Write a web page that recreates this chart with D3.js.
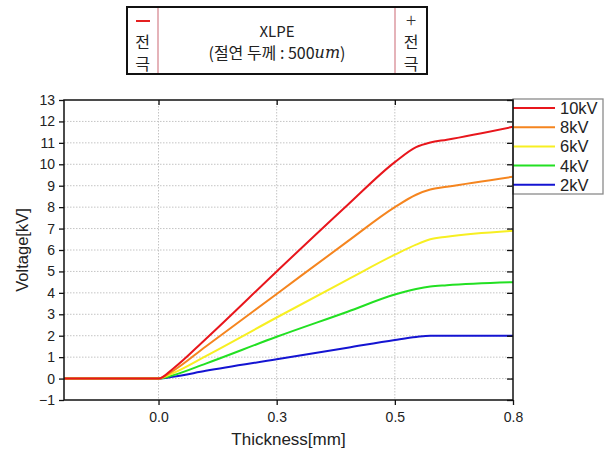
<!DOCTYPE html>
<meta charset="utf-8">
<script src="https://cdn.jsdelivr.net/npm/d3@7"></script>
<style>
    body { margin: 0; background: #fff; }
    .tick text { font-family: "Liberation Sans", Arial, sans-serif; font-size: 14px; fill: #222; }
    .label { font-family: "Liberation Sans", Arial, sans-serif; font-size: 17px; fill: #222; }
    .legend text { font-family: "Liberation Sans", Arial, sans-serif; font-size: 16.5px; fill: #222; }
    .kr { font-family: "Noto Sans CJK KR", "Noto Sans", sans-serif; font-size: 16px; fill: #222; }
</style>
<body>
<script>
    // thickness [mm] sample positions, shared by all series
    var xs = [-0.2, 0, 0.03, 0.1, 0.25, 0.4, 0.5, 0.545, 0.575, 0.61, 0.75];

    var v10 = [0, 0, 0.45, 1.85, 5.0, 8.1, 10.1, 10.8, 11.02, 11.15, 11.75];
    var v8 = [0, 0, 0.35, 1.5, 3.95, 6.4, 8.0, 8.58, 8.82, 8.95, 9.42];
    var v6 = [0, 0, 0.25, 1.05, 2.85, 4.62, 5.78, 6.25, 6.5, 6.62, 6.9];
    var v4 = [0, 0, 0.15, 0.7, 1.95, 3.12, 3.92, 4.18, 4.3, 4.36, 4.5];
    var v2 = [0, 0, 0.08, 0.36, 0.9, 1.44, 1.8, 1.94, 2.0, 2.0, 2.0];

    var names = ["10kV", "8kV", "6kV", "4kV", "2kV"];
    var colors = ["#e8161c", "#f5851f", "#f7ef22", "#22e022", "#1414d2"];
    var series = [v10, v8, v6, v4, v2];

    var xTicks = [0, 0.25, 0.5, 0.75];
    var yTicks = d3.range(-1, 14);

    (function () {
        var W = 613, H = 450;
        var pl = 64, pr = 513, pt = 100, pb = 400;

        var svg = d3.select("body").append("svg")
            .attr("width", W)
            .attr("height", H);

        var x = d3.scaleLinear().domain([-0.2, 0.75]).range([pl, pr]);
        var y = d3.scaleLinear().domain([-1, 13]).range([pb, pt]);

        // dotted grid
        svg.append("g").selectAll("line")
            .data(yTicks.filter(function (d) { return d > -1 && d < 13; }))
            .enter().append("line")
            .attr("x1", pl).attr("x2", pr)
            .attr("y1", function (d) { return y(d); })
            .attr("y2", function (d) { return y(d); })
            .attr("stroke", "#c4c4c4")
            .attr("stroke-dasharray", "1.5,1.5");

        svg.append("g").selectAll("line")
            .data(xTicks.slice(0, 3))
            .enter().append("line")
            .attr("y1", pt).attr("y2", pb)
            .attr("x1", function (d) { return x(d); })
            .attr("x2", function (d) { return x(d); })
            .attr("stroke", "#c4c4c4")
            .attr("stroke-dasharray", "1.5,1.5");

        // curves
        var line = d3.line()
            .x(function (d, i) { return x(xs[i]); })
            .y(function (d) { return y(d); })
            .curve(d3.curveMonotoneX);

        svg.append("g").selectAll("path")
            .data(series.slice().reverse())
            .enter().append("path")
            .attr("d", line)
            .attr("fill", "none")
            .attr("stroke", function (d, i) { return colors[4 - i]; })
            .attr("stroke-width", 2);

        // axes
        var fmt = d3.format(".1f");

        svg.append("g")
            .attr("transform", "translate(" + pl + ",0)")
            .call(d3.axisLeft(y).tickValues(yTicks).tickSize(5).tickSizeOuter(0).tickPadding(4));

        svg.append("g")
            .attr("transform", "translate(0," + pb + ")")
            .call(d3.axisBottom(x).tickValues(xTicks).tickFormat(fmt).tickSize(5).tickSizeOuter(0).tickPadding(7));

        svg.append("g")
            .attr("transform", "translate(0," + pt + ")")
            .call(d3.axisTop(x).tickValues(xTicks).tickFormat("").tickSize(-5).tickSizeOuter(0));

        svg.append("g")
            .attr("transform", "translate(" + pr + ",0)")
            .call(d3.axisRight(y).tickValues(yTicks).tickFormat("").tickSize(-6).tickSizeOuter(0));

        svg.selectAll(".domain").remove();
        svg.selectAll(".tick line").attr("stroke", "#111").attr("stroke-width", 1.3);

        // legend
        var lg = svg.append("g").attr("class", "legend");
        lg.append("rect")
            .attr("x", pr).attr("y", 99)
            .attr("width", 90).attr("height", 95)
            .attr("fill", "#fff")
            .attr("stroke", "#8a8a8a")
            .attr("stroke-width", 1.3);

        var row = lg.selectAll(".row")
            .data(names)
            .enter().append("g")
            .attr("class", "row")
            .attr("transform", function (d, i) { return "translate(" + pr + "," + (108 + i * 19.2) + ")"; });

        row.append("line")
            .attr("x1", 0).attr("x2", 42)
            .attr("stroke", function (d, i) { return colors[i]; })
            .attr("stroke-width", 2);

        row.append("text")
            .attr("x", 47)
            .attr("dy", "0.36em")
            .text(String);

        // frame
        svg.append("rect")
            .attr("x", pl).attr("y", pt)
            .attr("width", pr - pl).attr("height", pb - pt)
            .attr("fill", "none")
            .attr("stroke", "#111")
            .attr("stroke-width", 1.5);

        svg.append("text")
            .attr("class", "label")
            .attr("x", (pl + pr) / 2)
            .attr("y", 445)
            .attr("text-anchor", "middle")
            .text("Thickness[mm]");

        svg.append("text")
            .attr("class", "label")
            .attr("transform", "translate(28," + ((pt + pb) / 2) + ") rotate(-90)")
            .attr("text-anchor", "middle")
            .style("font-size", "16.5px")
            .text("Voltage[kV]");

        // electrode diagram on top
        var box = svg.append("g");
        box.append("rect")
            .attr("x", 127).attr("y", 7)
            .attr("width", 300).attr("height", 67)
            .attr("fill", "#fff")
            .attr("stroke", "#111")
            .attr("stroke-width", 2);

        [158, 395].forEach(function (px) {
            box.append("line")
                .attr("x1", px).attr("x2", px)
                .attr("y1", 8).attr("y2", 73)
                .attr("stroke", "#dc9aa2")
                .attr("stroke-width", 1.5);
        });

        box.append("line")
            .attr("x1", 136).attr("x2", 150)
            .attr("y1", 21).attr("y2", 21)
            .attr("stroke", "#e42020")
            .attr("stroke-width", 2);

        box.append("text")
            .attr("class", "kr")
            .attr("x", 411).attr("y", 18)
            .attr("text-anchor", "middle")
            .attr("dominant-baseline", "central")
            .style("font-size", "19px")
            .style("font-weight", 300)
            .style("fill", "#333")
            .text("+");

        [142.5, 411].forEach(function (cx) {
            box.append("text")
                .attr("class", "kr")
                .attr("x", cx).attr("y", 41)
                .attr("text-anchor", "middle")
                .attr("dominant-baseline", "central")
                .text("전");
            box.append("text")
                .attr("class", "kr")
                .attr("x", cx).attr("y", 63)
                .attr("text-anchor", "middle")
                .attr("dominant-baseline", "central")
                .text("극");
        });

        box.append("text")
            .attr("class", "kr")
            .attr("x", 277).attr("y", 30)
            .attr("text-anchor", "middle")
            .attr("dominant-baseline", "central")
            .style("font-size", "15px")
            .text("XLPE");

        var t2 = box.append("text")
            .attr("class", "kr")
            .attr("x", 277).attr("y", 52)
            .attr("text-anchor", "middle")
            .attr("dominant-baseline", "central");
        t2.append("tspan").text("(절연 두께 : 500");
        t2.append("tspan")
            .style("font-family", "'DejaVu Serif', 'Liberation Serif', serif")
            .style("font-style", "italic")
            .text("um");
        t2.append("tspan").text(")");
    })();
</script>
</body>
</html>
